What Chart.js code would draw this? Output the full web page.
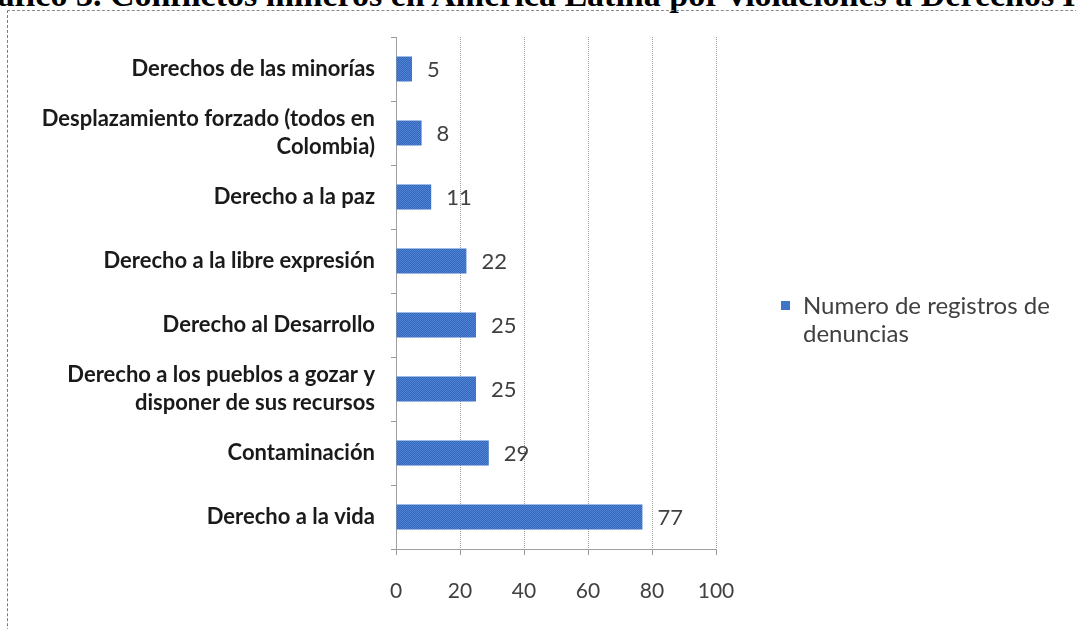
<!DOCTYPE html>
<html lang="es">
<head>
    <meta charset="UTF-8">
    <title>Gráfico 3</title>
    <script src="https://cdn.jsdelivr.net/npm/chart.js"></script>
    <style>
        html, body {
            margin: 0;
            padding: 0;
            background: #fff;
            overflow: hidden;
        }
        .page {
            position: relative;
            width: 1076px;
            height: 629px;
            overflow: hidden;
        }
        .titulo {
            position: absolute;
            left: -44px;
            top: -24px;
            font-family: "Liberation Serif", serif;
            font-weight: bold;
            font-size: 34px;
            white-space: nowrap;
            color: #000;
        }
        .marco {
            position: absolute;
            left: 7px;
            top: 10px;
            width: 1200px;
            height: 700px;
            border-left: 1px dashed #7a7a7a;
            border-top: 1px dashed #8a8a8a;
        }
        .chart-box {
            position: absolute;
            left: 0;
            top: 0;
            width: 1076px;
            height: 629px;
        }
        .leyenda {
            position: absolute;
            left: 781px;
            top: 291px;
            font-family: Lato, sans-serif;
            font-size: 24px;
            line-height: 28px;
            color: #404040;
            white-space: nowrap;
        }
        .leyenda .cuadro {
            position: absolute;
            left: 0;
            top: 10px;
            width: 9px;
            height: 9px;
            background: #3f74c6;
        }
        .leyenda .texto {
            margin-left: 22px;
        }
    </style>
</head>
<body>
<div class="page">
    <div class="titulo">Gráfico 3. Conflictos mineros en América Latina por violaciones a Derechos Humanos</div>
    <div class="marco"></div>
    <div class="chart-box">
        <canvas id="grafico"></canvas>
    </div>
    <div class="leyenda">
        <div class="cuadro"></div>
        <div class="texto">Numero de registros de<br>denuncias</div>
    </div>
</div>

<script>
    // Datos del gráfico
    const categorias = [
        'Derechos de las minorías',
        ['Desplazamiento forzado (todos en', 'Colombia)'],
        'Derecho a la paz',
        'Derecho a la libre expresión',
        'Derecho al Desarrollo',
        ['Derecho a los pueblos a gozar y', 'disponer de sus recursos'],
        'Contaminación',
        'Derecho a la vida'
    ];
    const denuncias = [5, 8, 11, 22, 25, 25, 29, 77];
    const serieNombre = 'Numero de registros de denuncias';
    const ejeMin = 0;
    const ejeMax = 100;
    const ejePaso = 20;

    // Textura punteada de las barras
    function crearTextura() {
        const c = document.createElement('canvas');
        c.width = 2;
        c.height = 2;
        const g = c.getContext('2d');
        g.fillStyle = '#3466bb';
        g.fillRect(0, 0, 2, 2);
        g.fillStyle = '#4f84d4';
        g.fillRect(0, 0, 1, 1);
        g.fillRect(1, 1, 1, 1);
        return g.createPattern(c, 'repeat');
    }

    // Etiquetas con el valor a la derecha de cada barra
    const etiquetasValor = {
        id: 'etiquetasValor',
        afterDatasetsDraw(chart) {
            const ctx = chart.ctx;
            const meta = chart.getDatasetMeta(0);
            ctx.save();
            ctx.font = '22px Lato';
            ctx.fillStyle = '#404040';
            ctx.textAlign = 'left';
            ctx.textBaseline = 'middle';
            meta.data.forEach((bar, i) => {
                ctx.fillText(String(denuncias[i]), bar.x + 15, bar.y + 1);
            });
            ctx.restore();
        }
    };

    const ctx = document.getElementById('grafico').getContext('2d');
    const chart = new Chart(ctx, {
        type: 'bar',
        data: {
            labels: categorias,
            datasets: [{
                label: serieNombre,
                data: denuncias,
                backgroundColor: crearTextura(),
                borderWidth: 0,
                barPercentage: 0.39,
                categoryPercentage: 1
            }]
        },
        options: {
            indexAxis: 'y',
            responsive: true,
            maintainAspectRatio: false,
            animation: false,
            layout: {
                padding: {top: 37, right: 360, bottom: 0, left: 0}
            },
            plugins: {
                legend: {display: false},
                tooltip: {enabled: false},
                title: {display: false}
            },
            scales: {
                x: {
                    min: ejeMin,
                    max: ejeMax,
                    ticks: {
                        stepSize: ejePaso,
                        color: '#404040',
                        font: {family: 'Lato', size: 21},
                        padding: 24
                    },
                    grid: {
                        color: '#999999',
                        tickLength: 6
                    },
                    border: {
                        color: '#a0a0a0',
                        dash: [1, 1]
                    },
                    afterFit(scale) {
                        scale.height = 80;
                    }
                },
                y: {
                    ticks: {
                        color: '#1a1a1a',
                        font: {family: 'Lato', size: 22, weight: 'bold', lineHeight: 1.3},
                        padding: 16
                    },
                    grid: {
                        drawOnChartArea: false,
                        color: '#999999',
                        tickLength: 5
                    },
                    border: {
                        color: '#a0a0a0'
                    },
                    afterFit(scale) {
                        scale.width = 396;
                    }
                }
            }
        },
        plugins: [etiquetasValor]
    });
</script>

</body>
</html>
